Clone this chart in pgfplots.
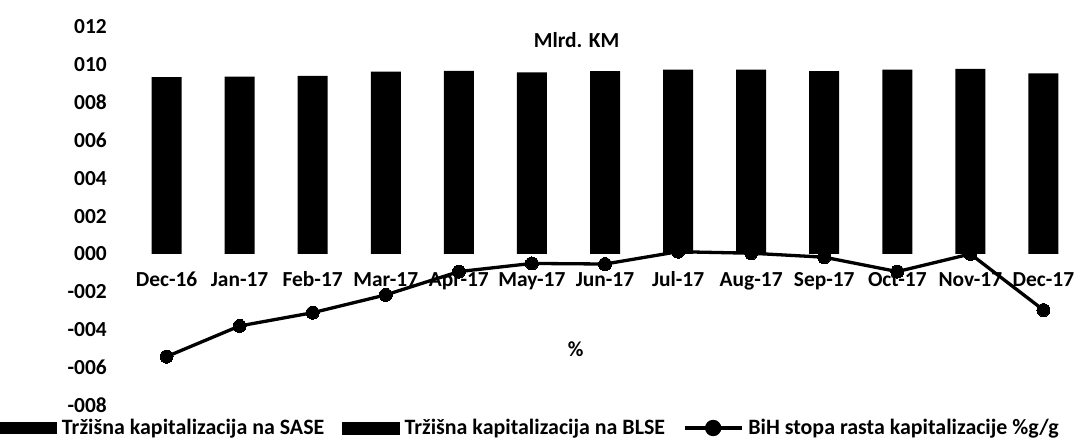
\documentclass[border=0pt]{standalone}
\usepackage{pgfplots}
\pgfplotsset{compat=1.18}
\usepackage{fontspec}
\setmainfont{Carlito}
\pgfplotsset{
  layers/mylayers/.define layer set={axis background,axis grid,axis ticks,axis lines,axis tick labels,main,axis descriptions,axis foreground}{},
}
\newcommand{\cf}{\fontsize{21.5}{24}\selectfont\bfseries}
\newcommand{\lf}{\fontsize{22}{24}\selectfont\bfseries}
\begin{document}
\begin{tikzpicture}
\begin{axis}[
  set layers=mylayers,
  at={(0,0)}, anchor=south west,
  scale only axis,
  width=950bp, height=378.8bp,
  xmin=-0.5, xmax=12.5,
  ymin=-8, ymax=12,
  axis x line=middle,
  hide obscured x ticks=false, hide obscured y ticks=false,
  axis line style={draw=none},
  major tick length=0pt,
  xtick={0,...,12},
  xticklabels={Dec-16,Jan-17,Feb-17,Mar-17,Apr-17,May-17,Jun-17,Jul-17,Aug-17,Sep-17,Oct-17,Nov-17,Dec-17},
  ytick={-8,-6,...,12},
  yticklabels={-008,-006,-004,-002,000,002,004,006,008,010,012},
  xticklabel style={font=\cf, anchor=north, inner sep=0pt, text height=14bp, text depth=4bp, yshift=-18.5bp},
  yticklabel style={font=\cf, anchor=east, inner sep=0pt, xshift=-23bp},
  clip=false,
  legend columns=3,
  legend style={
    at={(axis description cs:-0.13684,-0.0594)}, anchor=west,
    draw=none, fill=none, inner sep=0pt, outer sep=0pt,
    font=\lf,
    nodes={inner sep=0pt, outer sep=0pt},
    /tikz/every odd column/.append style={column sep=5bp},
    /tikz/every even column/.append style={column sep=18bp},
  },
]
\addplot[ybar, bar width=30bp, fill=black, draw=none,
  legend image code/.code={\fill[black] (0bp,-6bp) rectangle (57bp,6bp);}]
  coordinates {(0,9.34) (1,9.37) (2,9.41) (3,9.63) (4,9.67) (5,9.59) (6,9.65)
               (7,9.74) (8,9.74) (9,9.65) (10,9.74) (11,9.77) (12,9.54)};
\addlegendentry{Tržišna kapitalizacija na SASE}
\addlegendimage{legend image code/.code={\fill[black] (0bp,-6bp) rectangle (57bp,6bp);}}
\addlegendentry{Tržišna kapitalizacija na BLSE}
\addplot[black, line width=3.3bp, mark=*, mark size=6.5bp, mark options={fill=black, draw=black, line width=0pt},
  legend image code/.code={\draw[black, line width=3.3bp] (0bp,0bp) -- (57bp,0bp); \fill[black] (28.5bp,0bp) circle (6.5bp);}]
  coordinates {(0,-5.42) (1,-3.80) (2,-3.10) (3,-2.16) (4,-0.93) (5,-0.50) (6,-0.53)
               (7,0.12) (8,0.04) (9,-0.17) (10,-0.93) (11,0.0) (12,-2.96)};
\addlegendentry{BiH stopa rasta kapitalizacije \%g/g}
\node[font=\cf] at (axis cs:5.61,11.3) {Mlrd. KM};
\node[font=\cf] at (axis cs:5.6,-5.02) {\%};
\end{axis}
\pgfresetboundingbox
\useasboundingbox (-130bp,-34.5bp) rectangle (950bp,405.5bp);
\end{tikzpicture}
\end{document}
